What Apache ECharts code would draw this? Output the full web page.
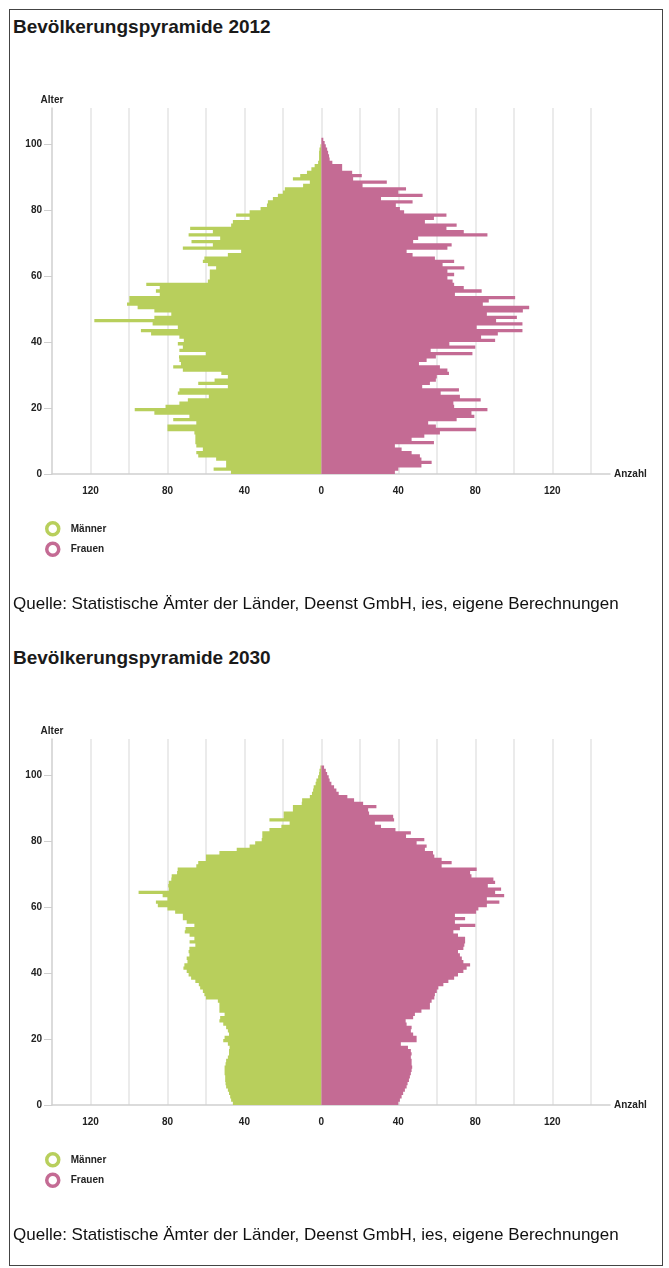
<!DOCTYPE html>
<html>
<head>
<meta charset="utf-8">
<script src="https://cdn.jsdelivr.net/npm/echarts@6/dist/echarts.min.js"></script>
<style>
  body { margin: 0; background: #fff; font-family: "Liberation Sans", Arial, sans-serif; }
  #frame { position: absolute; left: 9px; top: 9px; width: 652px; height: 1255px; border: 1px solid #444; }
  .title { position: absolute; left: 13px; font-size: 19px; font-weight: bold; color: #1a1a1a; line-height: 22px; white-space: nowrap; }
  .source { position: absolute; left: 13px; font-size: 17px; color: #111; line-height: 20px; white-space: nowrap; }
  .chart { position: absolute; left: 0; width: 669px; height: 631px; }
</style>
</head>
<body>
<div id="frame"></div>
<div class="title" style="top:16px">Bevölkerungspyramide 2012</div>
<div class="chart" id="c2012" style="top:0"></div>
<div class="source" style="top:594px">Quelle: Statistische Ämter der Länder, Deenst GmbH, ies, eigene Berechnungen</div>
<div class="title" style="top:647px">Bevölkerungspyramide 2030</div>
<div class="chart" id="c2030" style="top:631px"></div>
<div class="source" style="top:1225px">Quelle: Statistische Ämter der Länder, Deenst GmbH, ies, eigene Berechnungen</div>

<script>
// Alter 0..110 (jeweils ein Balken pro Jahrgang)
const ages = []
for (let a = 0; a <= 110; a++) ages.push(String(a))

// 2012, Anzahl je Alter ab 0
const maenner2012 = [47, 56, 49.5, 49.5, 54.7, 64, 65, 61.6, 65, 65.5,
  65.5, 65.5, 66, 80, 80, 65, 77, 68.6, 86.8, 97,
  81, 73.8, 69.4, 58.5, 74.6, 73.8, 48.6, 64, 55.5, 48.6,
  52, 72, 77, 73, 73.8, 74, 60, 73.8, 72, 74.6,
  71.5, 73.8, 88.5, 93.8, 74.6, 87.7, 118, 86.8, 78, 86.8,
  95.5, 101, 99.8, 99.8, 84, 86, 84, 91, 59, 58,
  58, 58, 54.7, 59, 61.6, 60.8, 48.6, 41.7, 72, 56.4,
  67.5, 52.6, 69, 56.4, 68.2, 46.9, 46, 37.3, 44.3, 37.3,
  31.6, 28.3, 27.8, 25.2, 22.6, 20, 19, 9.5, 6, 14.8,
  11, 7.5, 5.2, 3.5, 1.7, 1.2, 1.2, 1.2, 1, 0.5]
const frauen2012 = [38.2, 40, 52, 57.3, 52, 51.2, 46.9, 41.7, 38.2, 58.5,
  46.9, 53.5, 61.6, 80.4, 59.5, 55.5, 70.3, 79.5, 78, 86.3,
  69, 68.6, 82.8, 72, 62, 71.5, 52.4, 56.4, 59.5, 60,
  66.3, 65.5, 61.6, 50.7, 54.7, 59.5, 78.5, 56.8, 80, 66.5,
  90.3, 83, 91.7, 104.5, 80.7, 104.5, 90.8, 101.6, 86, 104.7,
  108, 83.9, 87, 100.7, 69.4, 83.3, 74, 69, 68.2, 65.5,
  69, 65.5, 74.3, 63, 69, 59, 47.4, 44.3, 65.5, 67.7,
  47.7, 50.3, 86.3, 74, 65, 70.3, 53.8, 58.5, 65, 43,
  40.8, 38.7, 47.4, 31, 52.6, 40, 44, 21.4, 34, 16.5,
  21, 16, 10.8, 10.8, 5.7, 4.3, 4, 3.5, 3, 2.3,
  1.7, 1]

// 2030, Anzahl je Alter ab 0
const maenner2030 = [46, 46.9, 47.4, 48, 48.6, 49.5, 49.8, 50, 50, 50.3,
  50.3, 50.3, 49.8, 49.5, 48.6, 48, 48, 47.7, 48.6, 51,
  50.3, 48, 48.6, 49.5, 51, 53, 52.6, 50.3, 53, 53,
  53, 53.8, 60, 60.8, 61.6, 63, 63.7, 65.5, 67.7, 69,
  70, 71.7, 71.2, 69.6, 70, 68.6, 69, 68.6, 65.5, 68.5,
  66, 68.5, 71, 70.6, 66, 70, 72, 72, 76, 80,
  85, 86, 80, 82.5, 95, 79.3, 79.6, 79.3, 78, 77.8,
  75, 74.7, 65, 64, 60, 60, 53, 44, 37.3, 34.4,
  31, 30.7, 30.7, 27, 20.8, 16.5, 27, 19.6, 19.6, 14.8,
  14.8, 10.2, 10, 6, 4.9, 4.3, 4, 3, 2.6, 1.7,
  1.2, 1, 0.5]
const frauen2030 = [40, 40.8, 41.7, 42.5, 43.4, 44.3, 44.8, 45.5, 46, 46.5,
  46.9, 47.2, 46.9, 46.9, 46.5, 46.9, 46.5, 45, 41.3, 49.5,
  49.5, 47.7, 46.5, 46.9, 44.3, 43.8, 47.7, 48.6, 52, 56.4,
  56.4, 57.3, 58.7, 59, 60, 60.8, 63.4, 66, 69, 71,
  73.8, 75.5, 77.3, 73.8, 73, 72, 71, 73.8, 74.3, 74.7,
  74.7, 71, 68.6, 72, 80, 69.4, 74.7, 69.4, 80.4, 81.6,
  86, 92.5, 86, 95, 90.3, 93.4, 86.5, 90.3, 89.4, 78,
  77.3, 80.7, 62.5, 67.7, 62.5, 58.7, 58, 53.8, 54.7, 49.5,
  53.5, 44, 46.5, 38.5, 31, 27.8, 37.8, 37.3, 24.8, 24.3,
  28.6, 21.7, 17, 13.5, 9, 7.8, 6.6, 5.2, 4.3, 3.8,
  3, 2.3, 1.4]

const alterTicks = [0, 20, 40, 60, 80, 100]

const gruen = '#b8cf5c'
const rosa = '#c46b94'
const schrift = '"Liberation Sans", Arial, sans-serif'

function makeOption(maenner, frauen) {
    return {
        animation: false,
        textStyle: { fontFamily: schrift },
        grid: { left: 52, top: 108, width: 558, height: 366 },
        legend: {
            orient: 'vertical',
            left: 40,
            top: 516,
            itemWidth: 26,
            itemHeight: 12,
            itemGap: 5,
            icon: 'circle',
            textStyle: { fontSize: 10, fontWeight: 'bold', color: '#222' },
            data: [
                { name: 'Männer', itemStyle: { color: '#fff', borderColor: gruen, borderWidth: 3.5 } },
                { name: 'Frauen', itemStyle: { color: '#fff', borderColor: rosa, borderWidth: 3.5 } }
            ]
        },
        xAxis: {
            type: 'value',
            min: -140,
            max: 150,
            interval: 20,
            name: 'Anzahl',
            nameLocation: 'end',
            nameGap: 4,
            nameTextStyle: { fontSize: 10, fontWeight: 'bold', color: '#222' },
            axisLine: { show: true, lineStyle: { color: '#cfcfcf', width: 1.5 } },
            axisTick: { show: false },
            axisLabel: {
                margin: 12,
                fontSize: 10,
                fontWeight: 'bold',
                color: '#222',
                formatter: v => (v % 40 === 0 && Math.abs(v) <= 120) ? String(Math.abs(v)) : ''
            },
            splitLine: { show: true, showMaxLine: false, showMinLine: false, lineStyle: { color: '#e4e4e4', width: 1.5 } }
        },
        yAxis: [
            {
                type: 'category',
                data: ages,
                show: false
            },
            {
                type: 'value',
                min: 0,
                max: 111,
                position: 'left',
                name: 'Alter',
                nameLocation: 'end',
                nameGap: 3,
                nameTextStyle: { fontSize: 10, fontWeight: 'bold', color: '#222' },
                axisLine: { show: true, lineStyle: { color: '#cfcfcf', width: 1.5 } },
                axisTick: { show: true, length: 8, customValues: alterTicks, lineStyle: { color: '#cfcfcf' } },
                axisLabel: { margin: 10, fontSize: 10, fontWeight: 'bold', color: '#222', customValues: alterTicks },
                splitLine: { show: false }
            }
        ],
        graphic: [
            { type: 'text', x: 268, y: 312, silent: true,
              style: { text: 'Männer', fill: '#fff', font: '14px ' + schrift, textAlign: 'center', textVerticalAlign: 'middle' } },
            { type: 'text', x: 375, y: 312, silent: true,
              style: { text: 'Frauen', fill: '#fff', font: '14px ' + schrift, textAlign: 'center', textVerticalAlign: 'middle' } }
        ],
        series: [
            {
                name: 'Männer',
                type: 'bar',
                yAxisIndex: 0,
                data: maenner.map(v => -v),
                barGap: '-100%',
                barCategoryGap: '0%',
                large: true,
                largeThreshold: 20,
                itemStyle: { color: gruen },
                silent: true
            },
            {
                name: 'Frauen',
                type: 'bar',
                yAxisIndex: 0,
                data: frauen,
                barGap: '-100%',
                barCategoryGap: '0%',
                large: true,
                largeThreshold: 20,
                itemStyle: { color: rosa },
                silent: true
            }
        ]
    }
}

const chart2012 = echarts.init(document.getElementById('c2012'))
chart2012.setOption(makeOption(maenner2012, frauen2012))

const chart2030 = echarts.init(document.getElementById('c2030'))
chart2030.setOption(makeOption(maenner2030, frauen2030))
</script>
</body>
</html>
